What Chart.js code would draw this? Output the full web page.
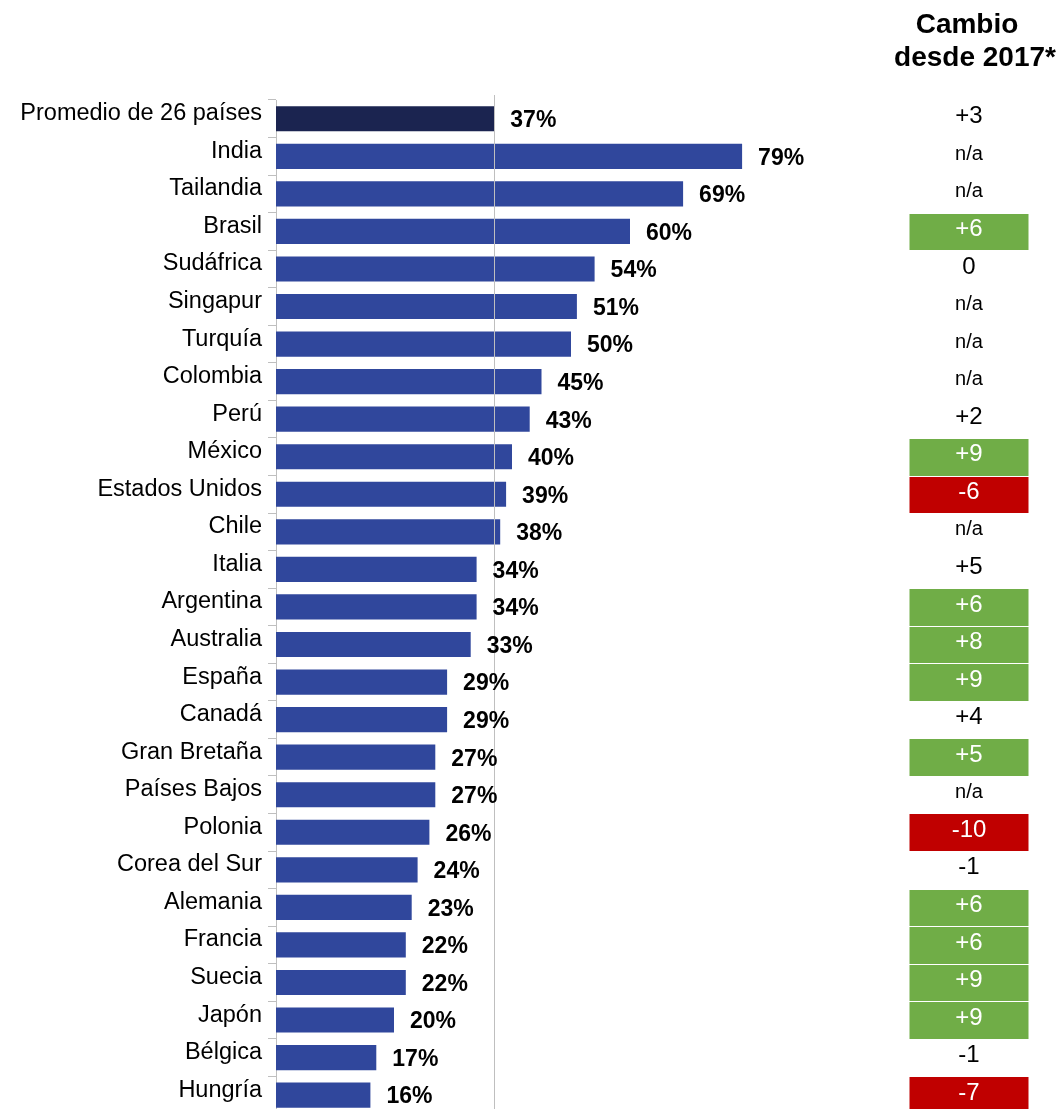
<!DOCTYPE html>
<html lang="es">
<head>
  <meta charset="UTF-8">
  <title>Cambio desde 2017</title>
  <script src="https://cdn.jsdelivr.net/npm/chart.js"></script>
  <style>
    html, body { margin: 0; padding: 0; background: #fff; overflow: hidden; }
    canvas { display: block; }
  </style>
</head>
<body>
  <canvas id="chart" width="1061" height="1134"></canvas>

  <script>
    const countries = [
      "Promedio de 26 países", "India", "Tailandia", "Brasil", "Sudáfrica",
      "Singapur", "Turquía", "Colombia", "Perú", "México", "Estados Unidos",
      "Chile", "Italia", "Argentina", "Australia", "España", "Canadá",
      "Gran Bretaña", "Países Bajos", "Polonia", "Corea del Sur", "Alemania",
      "Francia", "Suecia", "Japón", "Bélgica", "Hungría"
    ];
    const percent = [37, 79, 69, 60, 54, 51, 50, 45, 43, 40, 39, 38, 34, 34, 33,
                     29, 29, 27, 27, 26, 24, 23, 22, 22, 20, 17, 16];
    const change = ["+3", "n/a", "n/a", "+6", "0", "n/a", "n/a", "n/a", "+2", "+9",
                    "-6", "n/a", "+5", "+6", "+8", "+9", "+4", "+5", "n/a", "-10",
                    "-1", "+6", "+6", "+9", "+9", "-1", "-7"];
    // "up" = green cell, "down" = red cell, "" = no fill
    const changeMark = ["", "", "", "up", "", "", "", "", "", "up",
                        "down", "", "", "up", "up", "up", "", "up", "", "down",
                        "", "up", "up", "up", "up", "", "down"];
    const averageValue = 37;

    const FONT = "'Liberation Sans', Arial, sans-serif";

    const extras = {
      id: "extras",
      afterDatasetsDraw(chart) {
        const { ctx, chartArea, scales } = chart;
        const x = scales.x, y = scales.y;
        const meta = chart.getDatasetMeta(0);
        ctx.save();

        // average line
        const ax = Math.round(x.getPixelForValue(averageValue)) + 0.5;
        ctx.strokeStyle = "#bfbfbf";
        ctx.lineWidth = 1;
        ctx.beginPath();
        ctx.moveTo(ax, chartArea.top - 5);
        ctx.lineTo(ax, chartArea.bottom);
        ctx.stroke();

        // value labels
        ctx.fillStyle = "#000";
        ctx.font = "bold 23px " + FONT;
        ctx.textAlign = "left";
        ctx.textBaseline = "middle";
        meta.data.forEach((bar, i) => {
          ctx.fillText(percent[i] + "%", bar.x + 16, bar.y + 2);
        });

        // change column
        const cx = 969, cw = 119;
        const band = y.getPixelForValue(1) - y.getPixelForValue(0);
        change.forEach((c, i) => {
          const cy = y.getPixelForValue(i);
          const mark = changeMark[i];
          if (mark) {
            const top = Math.round(cy - band / 2);
            const bottom = Math.round(cy + band / 2);
            ctx.fillStyle = mark === "up" ? "#70ad47" : "#c00000";
            ctx.fillRect(cx - cw / 2, top + 1, cw, bottom - top - 1);
          }
          ctx.fillStyle = mark ? "#fff" : "#000";
          ctx.textAlign = "center";
          ctx.font = (c === "n/a" ? "20px " : "24px ") + FONT;
          ctx.fillText(c, cx, cy - 2);
        });

        // header
        ctx.fillStyle = "#000";
        ctx.font = "bold 28px " + FONT;
        ctx.fillText("Cambio", 967, 25);
        ctx.fillText("desde 2017*", 975, 58);
        ctx.restore();
      }
    };

    const ctx = document.getElementById("chart").getContext("2d");
    const chart = new Chart(ctx, {
      type: "bar",
      data: {
        labels: countries,
        datasets: [{
          data: percent,
          backgroundColor: countries.map((c, i) => i === 0 ? "#1b2450" : "#30479c"),
          barPercentage: 0.67,
          categoryPercentage: 1
        }]
      },
      options: {
        indexAxis: "y",
        responsive: false,
        animation: false,
        layout: { padding: { top: 100, bottom: 6, right: 195, left: 0 } },
        plugins: { legend: { display: false }, tooltip: { enabled: false } },
        scales: {
          x: {
            min: 0,
            max: 100,
            display: false
          },
          y: {
            afterFit(scale) { scale.width = 276; },
            grid: {
              offset: true,
              drawOnChartArea: false,
              tickLength: 8,
              color: "#bfbfbf"
            },
            border: { color: "#bfbfbf" },
            ticks: {
              color: "#000",
              padding: 6,
              labelOffset: -5,
              font: { family: FONT, size: 23.5 }
            }
          }
        }
      },
      plugins: [extras]
    });
  </script>
</body>
</html>
